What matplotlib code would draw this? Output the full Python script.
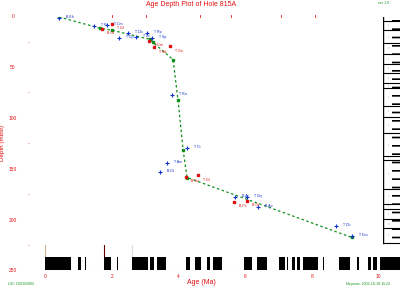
import matplotlib
matplotlib.use("Agg")
import matplotlib.pyplot as plt
from matplotlib.patches import Rectangle

W, H = 400, 288

# ---------------- data ----------------
# age-depth line (Ma, mbsf)
line_age = [0.42, 1.65, 2.0, 3.15, 3.24, 3.84, 3.99, 4.14, 4.26, 9.2]
line_depth = [0, 11, 13, 22, 25, 42, 82, 131, 158, 217]

# blue (nannofossil) datums
blue_age = [0.42, 1.47, 1.86, 2.22, 2.49, 2.73, 3.06, 3.21, 3.81, 3.66, 3.45, 4.26, 5.70, 6.06, 6.39, 8.73, 9.21]
blue_depth = [1, 9, 8, 21, 16, 20, 16, 21, 77, 144, 153, 129, 177, 177, 187, 206, 216]
blue_names = ["B Eh", "T Ps", "T Cm", "T Dp", "T Db", "T Dt", "T Rp", "T Sp", "T Ra", "T Am",
              "B Dt", "T Ct", "B Ar", "T Dq", "B Ap", "T Dh", "T Dm"]

# red (foraminifer) datums
red_age = [2.01, 1.71, 3.12, 3.27, 3.75, 4.23, 4.59, 5.67, 6.06]
red_depth = [7, 12, 24, 30, 29, 157, 156, 182, 181]
red_names = ["T Gf", "B Gt", "T Gm", "T Sd", "T Gn", "B Gc", "T Gl", "B Ps", "B Gt"]

# magnetic polarity: normal chrons (start, end) in Ma
normal_start = [0.0, 0.99, 1.20, 1.77, 2.16, 2.61, 3.15, 3.36, 4.23, 4.50, 4.86, 5.04, 5.97,
                6.36, 7.02, 7.26, 7.41, 7.56, 7.74, 8.34, 8.82, 9.36, 9.69, 9.84, 10.05]
normal_end = [0.78, 1.08, 1.23, 1.98, 2.19, 3.09, 3.27, 3.63, 4.35, 4.68, 4.95, 5.31, 6.21,
              6.66, 7.20, 7.29, 7.50, 7.65, 8.19, 8.37, 9.15, 9.42, 9.78, 9.96, 10.70]

# core boundaries (mbsf) for the core column
core_tops = [3.5, 13, 26, 36, 46, 55, 65, 70, 88, 98, 114, 137, 141, 169, 184, 189, 199, 208, 222]

x_ticks = [0, 2, 4, 6, 8, 10]
y_ticks = [0, 50, 100, 150, 200, 250]
y_minor = [25, 75, 125, 175, 225]
top_ticks = [2.0, 3.03, 4.65, 5.58, 7.08, 8.1]

# ---------------- figure ----------------
fig = plt.figure(figsize=(W / 100, H / 100), dpi=100)
plt.rcParams['font.family'] = ['Liberation Sans', 'DejaVu Sans']

XMAX = (400 - 45) / 33.35
def px_axes(x0, y0, x1, y1):
    return fig.add_axes([x0 / W, 1 - y1 / H, (x1 - x0) / W, (y1 - y0) / H])

ax = px_axes(45, 17, 400, 271)
ax.set_xlim(0, XMAX)
ax.set_ylim(250, 0)
ax.set_facecolor('none')
for s in ax.spines.values():
    s.set_visible(False)
ax.set_xticks([])
ax.set_yticks([])

red = '#e01010'
blue = '#1030d0'
green = '#10901a'

ax.plot(line_age, line_depth, color=green, ls=(0, (2, 2)), lw=0.9, zorder=3)
ax.plot(line_age, line_depth, ls='none', marker='s', ms=1.5, color=green, zorder=3)

ax.plot(blue_age, blue_depth, ls='none', marker='+', ms=3, mew=0.8, color=blue, zorder=4)
for a, d, n in zip(blue_age, blue_depth, blue_names):
    ax.text(a + 0.2, d - 1, n, color=blue, fontsize=2.6, va='center', ha='left', zorder=5)

ax.plot(red_age, red_depth, ls='none', marker='s', ms=1.6, color=red, zorder=4)
for a, d, n in zip(red_age, red_depth, red_names):
    ax.text(a + 0.15, d + 4, n, color=red, fontsize=2.6, va='center', ha='left', zorder=5)

for t in x_ticks:
    xp = 45 + t * 33.35
    fig.text(xp / W, 1 - 276 / H, str(t), color=red, fontsize=3.5, ha='center', va='center')
for t in y_ticks:
    yp = 17 + t * 254 / 250
    fig.text(13 / W, 1 - yp / H, str(t), color=red, fontsize=3.5, ha='center', va='center')
for t in y_minor:
    yp = 17 + t * 254 / 250
    fig.text(29 / W, 1 - yp / H, '-', color=red, fontsize=3.5, ha='center', va='center')
for t in top_ticks:
    ax.plot([t, t], [-2, 0], color=red, lw=0.6, clip_on=False)

fig.text(191 / W, 1 - 5 / H, 'Age Depth Plot of Hole 815A', color=red, fontsize=5,
         ha='center', va='center')
fig.text(201 / W, 1 - 283 / H, 'Age (Ma)', color=red, fontsize=5, ha='center', va='center')
fig.text(3 / W, 1 - 143 / H, 'Depth (mbsf)', color=red, fontsize=4.5, rotation=90,
         ha='center', va='center')
fig.text(384 / W, 1 - 3 / H, 'ver 1.0', color=green, fontsize=2.6, ha='center', va='center')
fig.text(8 / W, 1 - 284 / H, 'LSC 10/10/2003', color=green, fontsize=2.6, ha='left', va='center')
fig.text(390 / W, 1 - 284 / H, 'Neptune: 2003-10-10 15:22', color=green, fontsize=2.6,
         ha='right', va='center')

# ---------------- magnetic polarity bar ----------------
bx = px_axes(45, 257, 400, 271)
bx.set_xlim(0, XMAX)
bx.set_ylim(0, 1)
bx.axis('off')
for s0, s1 in zip(normal_start, normal_end):
    bx.add_patch(Rectangle((s0, 0.05), s1 - s0, 0.95, color='black', lw=0))
bx.plot([0, XMAX], [0.02, 0.02], color='#dddddd', lw=0.8)

ev = px_axes(45, 245, 400, 257)
ev.set_xlim(0, XMAX)
ev.set_ylim(0, 1)
ev.axis('off')
for a, c in zip([0.0, 1.77, 2.61], ['#c8b090', '#600000', '#dddddd']):
    ev.plot([a, a], [0, 1], color=c, lw=0.8)

# ---------------- core column ----------------
cx = px_axes(383, 17, 400, 271)
cx.set_xlim(0, 1)
cx.set_ylim(250, 0)
cx.axis('off')
cx.plot([0, 0], [0, 222], color='black', lw=1.0)
plt.rcParams['hatch.linewidth'] = 1.2
cx.add_patch(Rectangle((0.55, 0), 0.45, 222, facecolor='white', edgecolor='black',
                       hatch='--', lw=0))
for d in core_tops:
    cx.plot([0, 1], [d, d], color='black', lw=0.8)
for i, d in enumerate(core_tops[:-1]):
    cx.text(0.3, (d + core_tops[i + 1]) / 2, ':', color='black', fontsize=3,
            ha='center', va='center')

fig.savefig('out.png', dpi=100)
